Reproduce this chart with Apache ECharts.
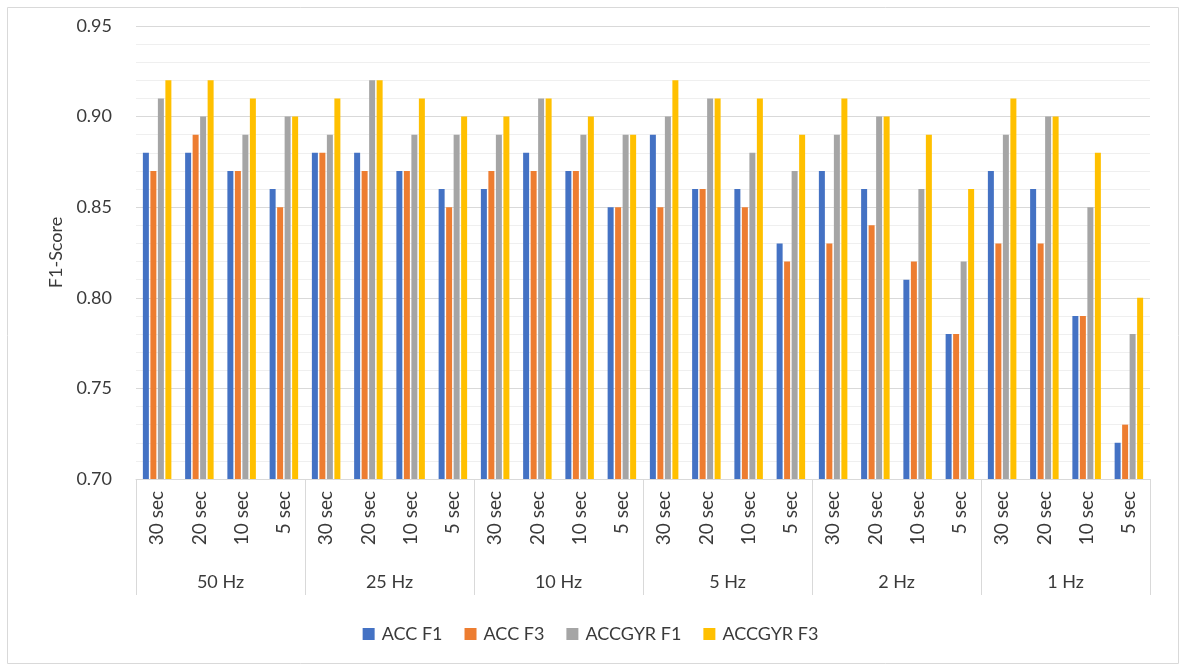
<!DOCTYPE html>
<html>
<head>
<meta charset="utf-8">
<script src="https://cdn.jsdelivr.net/npm/echarts@6/dist/echarts.min.js"></script>
<style>
  html, body { margin: 0; padding: 0; background: #fff; }
  #chart { width: 1181px; height: 666px; }
</style>
</head>
<body>
<div id="chart"></div>
<script>
// Sampling rates (outer groups) and window lengths (inner categories)
const rates = ['50 Hz', '25 Hz', '10 Hz', '5 Hz', '2 Hz', '1 Hz'];
const windows = ['30 sec', '20 sec', '10 sec', '5 sec'];

// F1 scores, one value per (rate, window) in the order above
const accF1 = [
  0.88, 0.88, 0.87, 0.86,
  0.88, 0.88, 0.87, 0.86,
  0.86, 0.88, 0.87, 0.85,
  0.89, 0.86, 0.86, 0.83,
  0.87, 0.86, 0.81, 0.78,
  0.87, 0.86, 0.79, 0.72
];
const accF3 = [
  0.87, 0.89, 0.87, 0.85,
  0.88, 0.87, 0.87, 0.85,
  0.87, 0.87, 0.87, 0.85,
  0.85, 0.86, 0.85, 0.82,
  0.83, 0.84, 0.82, 0.78,
  0.83, 0.83, 0.79, 0.73
];
const accGyrF1 = [
  0.91, 0.90, 0.89, 0.90,
  0.89, 0.92, 0.89, 0.89,
  0.89, 0.91, 0.89, 0.89,
  0.90, 0.91, 0.88, 0.87,
  0.89, 0.90, 0.86, 0.82,
  0.89, 0.90, 0.85, 0.78
];
const accGyrF3 = [
  0.92, 0.92, 0.91, 0.90,
  0.91, 0.92, 0.91, 0.90,
  0.90, 0.91, 0.90, 0.89,
  0.92, 0.91, 0.91, 0.89,
  0.91, 0.90, 0.89, 0.86,
  0.91, 0.90, 0.88, 0.80
];

const seriesNames = ['ACC F1', 'ACC F3', 'ACCGYR F1', 'ACCGYR F3'];
const seriesData = [accF1, accF3, accGyrF1, accGyrF3];
const colors = ['#4472C4', '#ED7D31', '#A5A5A5', '#FFC000'];

// Inner category keys: unique per group, shown as the window length only
const innerKeys = [];
rates.forEach(r => windows.forEach(w => innerKeys.push(r + '|' + w)));

const FONT = 'Lato, "Open Sans", sans-serif';
const TEXT = '#3a3a3a';
const GRID_LINE = '#d9d9d9';

const chart = echarts.init(document.getElementById('chart'), null, { renderer: 'canvas' });

chart.setOption({
  animation: false,
  color: colors,
  textStyle: { fontFamily: FONT },
  grid: { left: 136, right: 31, top: 26, bottom: 187, containLabel: false },
  graphic: [{
    type: 'rect',
    left: 5, top: 5,
    shape: { width: 1171, height: 656 },
    style: { fill: 'none', stroke: '#d9d9d9', lineWidth: 1 },
    silent: true
  }],
  legend: {
    data: seriesNames,
    top: 620,
    left: 'center',
    itemWidth: 12,
    itemHeight: 12,
    itemGap: 22,
    icon: 'rect',
    textStyle: { fontSize: 18, color: TEXT, fontFamily: FONT, padding: [0, 0, 0, 2] }
  },
  xAxis: [
    {
      type: 'category',
      data: innerKeys,
      axisLine: { show: true, lineStyle: { color: GRID_LINE, width: 1 } },
      axisTick: { show: false },
      axisLabel: {
        interval: 0,
        rotate: 90,
        margin: 12,
        fontSize: 19,
        color: TEXT,
        fontFamily: FONT,
        formatter: v => v.split('|')[1]
      },
      splitLine: { show: false }
    },
    {
      type: 'category',
      data: rates,
      position: 'bottom',
      axisLine: { show: false },
      axisTick: {
        show: true,
        length: 116,
        interval: 0,
        lineStyle: { color: GRID_LINE, width: 1 }
      },
      axisLabel: {
        interval: 0,
        margin: 94,
        fontSize: 18,
        color: TEXT,
        fontFamily: FONT
      },
      splitLine: { show: false }
    }
  ],
  yAxis: {
    type: 'value',
    min: 0.70,
    max: 0.95,
    interval: 0.05,
    name: 'F1-Score',
    nameLocation: 'middle',
    nameGap: 70,
    nameTextStyle: { fontSize: 18, color: TEXT, fontFamily: FONT },
    axisLine: { show: false },
    axisTick: { show: false },
    axisLabel: {
      margin: 24,
      fontSize: 18,
      color: TEXT,
      fontFamily: FONT,
      formatter: v => v.toFixed(2)
    },
    splitLine: { show: true, lineStyle: { color: GRID_LINE, width: 1 } },
    minorTick: { show: false, splitNumber: 5 },
    minorSplitLine: { show: true, lineStyle: { color: '#efefef', width: 1 } }
  },
  series: seriesNames.map((name, i) => ({
    name,
    type: 'bar',
    xAxisIndex: 0,
    data: seriesData[i],
    barWidth: 6,
    barGap: '25%',
    itemStyle: { color: colors[i] }
  }))
});
</script>
</body>
</html>
